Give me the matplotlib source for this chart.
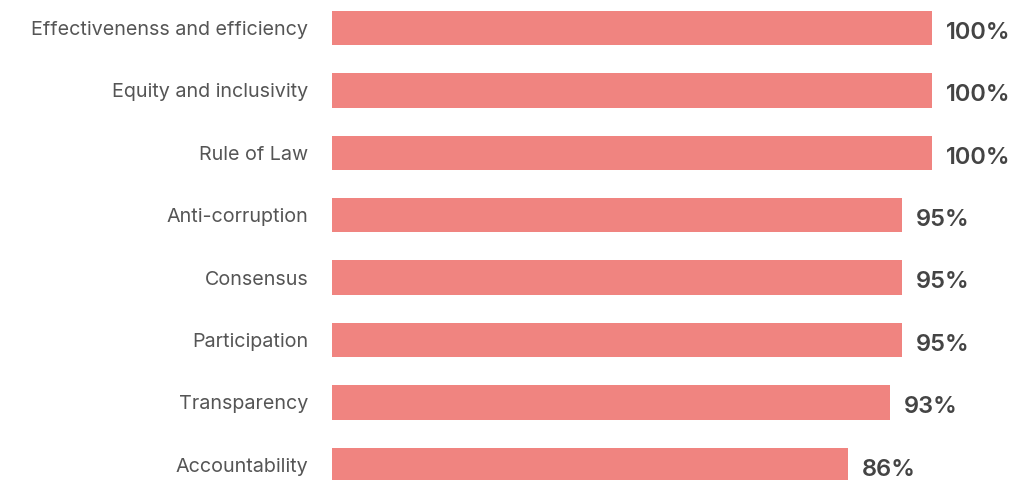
import matplotlib
matplotlib.use('Agg')
import matplotlib.pyplot as plt

# data, top to bottom
categories = ['Effectivenenss and efficiency', 'Equity and inclusivity', 'Rule of Law',
              'Anti-corruption', 'Consensus', 'Participation', 'Transparency',
              'Accountability']
values = [100, 100, 100, 95, 95, 95, 93, 86]

W, H = 1016, 480
fig = plt.figure(figsize=(W / 100, H / 100), dpi=100)
# axes placed in pixels: x 332..932 maps 0..100, rows every 62.4 px starting at 28
row = 62.4
top_px = 28 - row / 2
ax = fig.add_axes([332 / W, (H - top_px - 8 * row) / H, 600 / W, 8 * row / H])

pos = list(range(len(categories)))
ax.barh(pos, values, height=0.55, color='#f08480')
ax.set_xlim(0, 100)
ax.set_ylim(len(categories) - 0.5, -0.5)

ax.set_yticks(pos)
ax.set_yticklabels(categories, fontsize=14.2, color='#555555', family='Inter')
ax.tick_params(axis='y', length=0, pad=17)
ax.set_xticks([])
for s in ax.spines.values():
    s.set_visible(False)

for p, v in zip(pos, values):
    ax.annotate(f'{v}%', xy=(v, p), xytext=(10, -3.5), textcoords='offset points',
                ha='left', va='center', fontsize=17, color='#444444',
                family='Inter', fontweight='semibold')

fig.savefig('out.png', dpi=100)
